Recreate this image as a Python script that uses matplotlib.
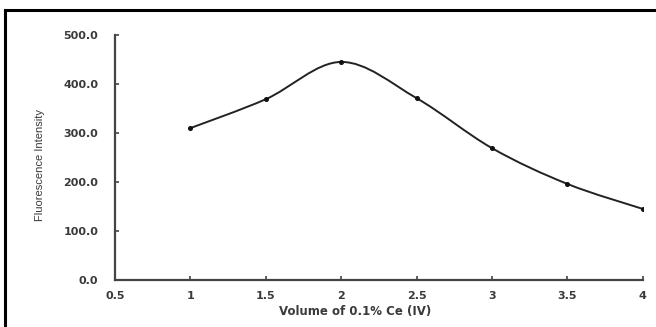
import numpy as np
import matplotlib.pyplot as plt
from matplotlib.path import Path
from matplotlib.patches import PathPatch
from matplotlib.lines import Line2D
from matplotlib.ticker import FuncFormatter

# Fluorescence intensity vs. volume of 0.1% Ce(IV)
volume = [1, 1.5, 2, 2.5, 3, 3.5, 4]
intensity = [310, 369, 445, 371, 269, 196, 145]

x_ticks = [0.5, 1, 1.5, 2, 2.5, 3, 3.5, 4]
y_ticks = [0, 100, 200, 300, 400, 500]

INK = "#3a3a3a"
WIDE = ["DejaVu Sans"]


def smooth_path(xs, ys):
    """Cubic Bezier through every point (Excel-style smoothed line)."""
    pts = np.column_stack([xs, ys]).astype(float)
    n = len(pts)
    verts = [pts[0]]
    codes = [Path.MOVETO]
    for i in range(n - 1):
        p0 = pts[max(i - 1, 0)]
        p1 = pts[i]
        p2 = pts[i + 1]
        p3 = pts[min(i + 2, n - 1)]
        c1 = p1 + (p2 - p0) / 6.0
        c2 = p2 - (p3 - p1) / 6.0
        verts += [c1, c2, p2]
        codes += [Path.CURVE4] * 3
    return Path(verts, codes)


fig = plt.figure(figsize=(6.56, 3.27), dpi=100)
ax = fig.add_axes([0.1753, 0.1437, 0.8047, 0.7493])

ax.add_patch(PathPatch(smooth_path(volume, intensity), fill=False,
                       edgecolor="#222222", linewidth=1.4))
ax.plot(volume, intensity, linestyle="none", marker="o", markersize=2.6,
        color="#111111")

ax.set_xlim(0.5, 4)
ax.set_ylim(0, 500)
ax.set_xticks(x_ticks)
ax.set_yticks(y_ticks)
ax.xaxis.set_major_formatter(FuncFormatter(lambda v, _: f"{v:g}"))
ax.yaxis.set_major_formatter(FuncFormatter(lambda v, _: f"{v:.1f}"))

for side in ("top", "right"):
    ax.spines[side].set_visible(False)
for side in ("left", "bottom"):
    ax.spines[side].set_color("#444444")
    ax.spines[side].set_linewidth(1.6)

ax.tick_params(direction="in", length=3, width=1.2, color="#444444",
               labelsize=8, labelcolor=INK)
ax.tick_params(axis="x", pad=8)
ax.tick_params(axis="y", pad=12)
for lab in ax.get_xticklabels() + ax.get_yticklabels():
    lab.set_fontweight("bold")
    lab.set_family(WIDE)

ax.set_xlabel("Volume of 0.1% Ce (IV)", fontsize=8.5, fontweight="bold",
              color=INK, family=WIDE)
ax.xaxis.set_label_coords(0.4545, -0.127)
ax.set_ylabel("Fluorescence Intensity", fontsize=8,
              color=INK, family=["Liberation Sans Narrow", "Liberation Sans"])
ax.yaxis.set_label_coords(-0.142, 0.469)
ax.xaxis.label.set_va("center")
ax.yaxis.label.set_va("center")

# frame around the figure (top and left edges)
fig.add_artist(Line2D([5 / 656, 5 / 656], [0, 1 - 10 / 327],
                      transform=fig.transFigure, color="black", linewidth=2.2))
fig.add_artist(Line2D([5 / 656, 1], [1 - 10 / 327, 1 - 10 / 327],
                      transform=fig.transFigure, color="black", linewidth=2.2))

fig.savefig("out.png", dpi=100)
